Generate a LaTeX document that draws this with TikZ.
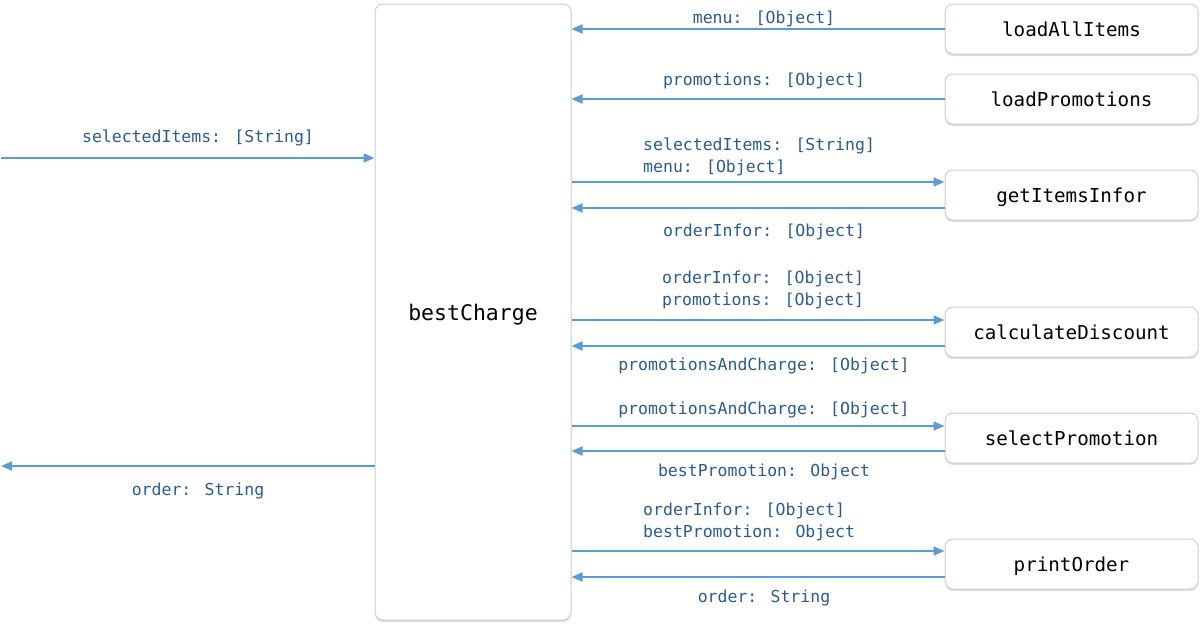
\documentclass[tikz,border=0pt]{standalone}
\usepackage{fontspec}
\usetikzlibrary{arrows.meta,shadows}
\newfontfamily\lblfont{DejaVu Sans Mono}
\newfontfamily\boxfont{DejaVu Sans Mono}
\definecolor{arrowblue}{HTML}{5B9BD5}
\definecolor{lbltext}{HTML}{2A5B8C}
\definecolor{boxline}{HTML}{C9CFD6}
\tikzset{
  x=1pt, y=-1pt,
  procbox/.style={draw=boxline, line width=1pt, rounded corners=8pt, fill=white,
    drop shadow={shadow xshift=0pt, shadow yshift=-2pt, fill=black!25, opacity=0.5},
    minimum width=253pt, minimum height=50pt, inner sep=0pt,
    text height=17pt, text depth=2pt,
    font=\boxfont\fontsize{19.2}{22}\selectfont},
  mainbox/.style={draw=boxline, line width=1pt, rounded corners=8pt, fill=white,
    drop shadow={shadow xshift=0pt, shadow yshift=-2pt, fill=black!25, opacity=0.5},
    minimum width=196pt, minimum height=616pt, inner sep=0pt,
    text height=19pt, text depth=3pt,
    font=\boxfont\fontsize{21.5}{24}\selectfont},
  flow/.style={draw=arrowblue, line width=1.8pt, -{Triangle[length=11pt,width=9pt]}},
  lbl/.style={text=lbltext, inner sep=0pt, font=\lblfont\fontsize{16.5}{22}\selectfont},
  lbl2/.style={lbl, anchor=west, align=left},
}
\begin{document}
\begin{tikzpicture}
\useasboundingbox (0,0) rectangle (1204,629);
\node[mainbox] (bc) at (473,312) {bestCharge};
\node[procbox] (la) at (1071.5,29) {loadAllItems};
\node[procbox] (lp) at (1071.5,99) {loadPromotions};
\node[procbox] (gi) at (1071.5,195) {getItemsInfor};
\node[procbox] (cd) at (1071.5,332) {calculateDiscount};
\node[procbox] (sp) at (1071.5,438) {selectPromotion};
\node[procbox] (po) at (1071.5,564) {printOrder};
\coordinate (inL) at (1,158);
\coordinate (outL) at (1,466);
% left side
\draw[flow] (inL) -- (bc.west |- inL);
\draw[flow] (bc.west |- outL) -- (outL);
\node[lbl] (l0) at (198,138) {selectedItems: [String]};
\node[lbl] (l00) at (198,491) {order: String};
% loadAllItems
\draw[flow] (la.west) -- (bc.east |- la.west);
\node[lbl] (l1) at (764,19) {menu: [Object]};
% loadPromotions
\draw[flow] (lp.west) -- (bc.east |- lp.west);
\node[lbl] (l2) at (764,81) {promotions: [Object]};
% getItemsInfor
\draw[flow] (bc.east |- 0,182) -- (gi.west |- 0,182);
\draw[flow] (gi.west |- 0,208) -- (bc.east |- 0,208);
\node[lbl2] (l3) at (643,157) {selectedItems: [String]\\menu: [Object]};
\node[lbl] (l4) at (764,232) {orderInfor: [Object]};
% calculateDiscount
\draw[flow] (bc.east |- 0,320) -- (cd.west |- 0,320);
\draw[flow] (cd.west |- 0,346) -- (bc.east |- 0,346);
\node[lbl2] (l5) at (662,290) {orderInfor: [Object]\\promotions: [Object]};
\node[lbl] (l6) at (764,366) {promotionsAndCharge: [Object]};
% selectPromotion
\draw[flow] (bc.east |- 0,426) -- (sp.west |- 0,426);
\draw[flow] (sp.west |- 0,451) -- (bc.east |- 0,451);
\node[lbl] (l7) at (764,410) {promotionsAndCharge: [Object]};
\node[lbl] (l8) at (764,472) {bestPromotion: Object};
% printOrder
\draw[flow] (bc.east |- 0,551) -- (po.west |- 0,551);
\draw[flow] (po.west |- 0,577) -- (bc.east |- 0,577);
\node[lbl2] (l9) at (643,521.5) {orderInfor: [Object]\\bestPromotion: Object};
\node[lbl] (l10) at (764,598) {order: String};
\end{tikzpicture}
\end{document}
